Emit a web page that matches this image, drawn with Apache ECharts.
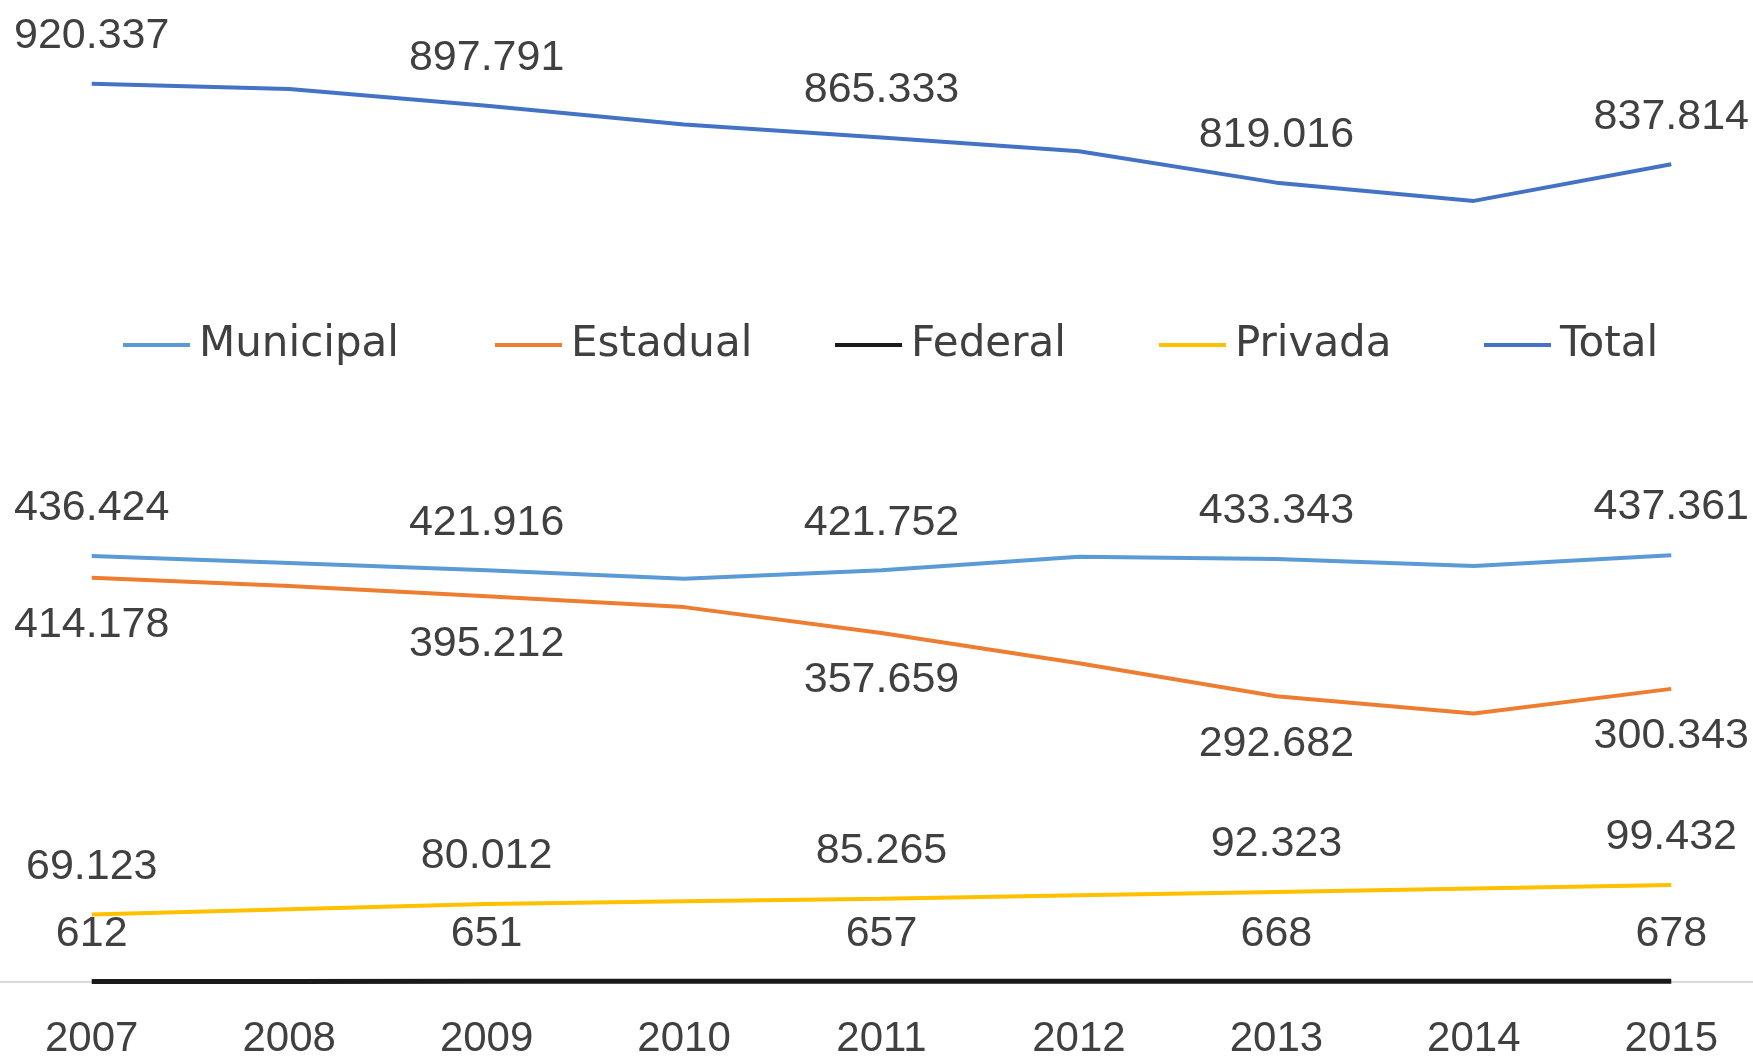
<!DOCTYPE html>
<html>
<head>
<meta charset="utf-8">
<script src="https://cdn.jsdelivr.net/npm/echarts@6/dist/echarts.min.js"></script>
<style>
  html, body { margin: 0; padding: 0; background: #fff; overflow: hidden; }
  #wrap { position: relative; width: 1753px; height: 1060px; overflow: hidden; }
  #chart { position: absolute; left: -7px; top: 0; width: 1777px; height: 1060px; }
</style>
</head>
<body>
<div id="wrap"><div id="chart"></div></div>
<script>
// anos
var years = ['2007', '2008', '2009', '2010', '2011', '2012', '2013', '2014', '2015'];

// matrículas por rede
var municipal = [436424, 429300, 421916, 413200, 421752, 435600, 433343, 426300, 437361];
var estadual  = [414178, 405800, 395212, 384100, 357659, 326500, 292682, 275200, 300343];
var federal   = [612, 631, 651, 654, 657, 662, 668, 672, 678];
var privada   = [69123, 74600, 80012, 82700, 85265, 88900, 92323, 95800, 99432];
var total     = [920337, 914900, 897791, 878500, 865333, 851200, 819016, 800300, 837814];

var names  = ['Municipal', 'Estadual', 'Federal', 'Privada', 'Total'];
var colors = ['#5b9bd5', '#ed7d31', '#1a1a1a', '#ffc000', '#4472c4'];
var legendLeft = [130, 502, 842, 1166, 1491];

function fmt(v) {
  return String(v).replace(/\B(?=(\d{3})+(?!\d))/g, '.');
}

function mkSeries(name, data, color, pos, width) {
  return {
    name: name,
    type: 'line',
    data: data,
    symbol: 'circle',
    symbolSize: 0.1,
    showSymbol: true,
    lineStyle: { color: color, width: width },
    itemStyle: { color: color },
    label: {
      show: true,
      position: pos,
      distance: 26,
      fontFamily: 'Liberation Sans',
      fontSize: 43,
      color: '#404040',
      formatter: function (p) {
        return p.dataIndex % 2 === 0 ? fmt(p.value) : '';
      }
    }
  };
}

// uma legenda por série, para acertar as posições
var legends = names.map(function (n, i) {
  return {
    top: 324,
    left: legendLeft[i],
    padding: 0,
    icon: 'rect',
    itemWidth: 67,
    itemHeight: 4,
    textStyle: { fontFamily: 'DejaVu Sans', fontSize: 42, color: '#404040', padding: [0, 0, 0, 4] },
    data: [n]
  };
});

var option = {
  backgroundColor: '#ffffff',
  animation: false,
  color: colors,
  grid: { left: 0, right: 0, top: 6, bottom: 76, containLabel: false },
  legend: legends,
  xAxis: {
    type: 'category',
    data: years,
    boundaryGap: true,
    axisLine: { show: true, lineStyle: { color: '#d9d9d9', width: 2 } },
    axisTick: { show: false },
    axisLabel: { fontFamily: 'Liberation Sans', fontSize: 42, color: '#404040', margin: 36 },
    splitLine: { show: false }
  },
  yAxis: {
    type: 'value',
    min: 0,
    max: 1000000,
    show: false,
    splitLine: { show: false }
  },
  series: [
    mkSeries(names[0], municipal, colors[0], 'top', 4),
    mkSeries(names[1], estadual, colors[1], 'bottom', 4),
    mkSeries(names[2], federal, colors[2], 'top', 5),
    mkSeries(names[3], privada, colors[3], 'top', 4),
    mkSeries(names[4], total, colors[4], 'top', 4)
  ]
};

var chart = echarts.init(document.getElementById('chart'));
chart.setOption(option);
</script>
</body>
</html>
